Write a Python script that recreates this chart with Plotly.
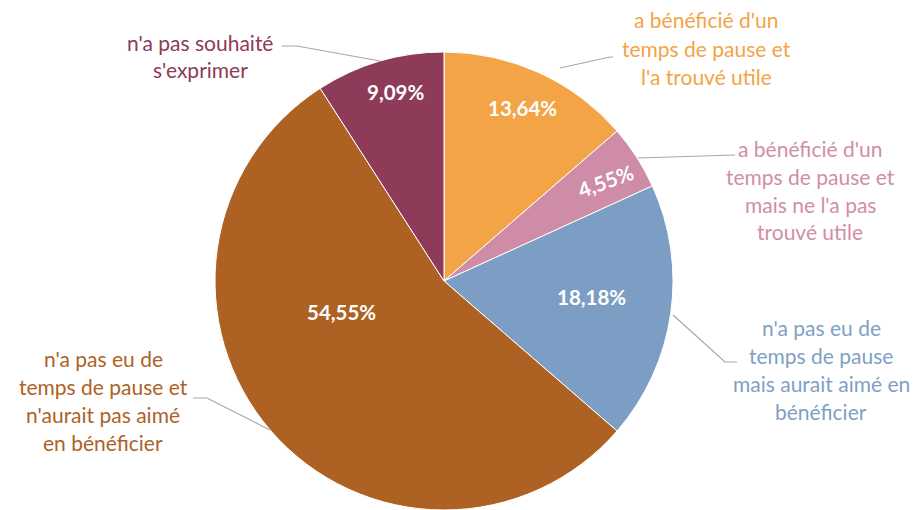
import math
import plotly.graph_objects as go

# ---- data ----
categories = [
    "a bénéficié d'un temps de pause et l'a trouvé utile",
    "a bénéficié d'un temps de pause et mais ne l'a pas trouvé utile",
    "n'a pas eu de temps de pause mais aurait aimé en bénéficier",
    "n'a pas eu de temps de pause et n'aurait pas aimé en bénéficier",
    "n'a pas souhaité s'exprimer",
]
values = [13.64, 4.55, 18.18, 54.55, 9.09]
pct_labels = ["13,64%", "4,55%", "18,18%", "54,55%", "9,09%"]
label_lines = [
    ["a bénéficié d'un", "temps de pause et", "l'a trouvé utile"],
    ["a bénéficié d'un", "temps de pause et", "mais ne l'a pas", "trouvé utile"],
    ["n'a pas eu de", "temps de pause", "mais aurait aimé en", "bénéficier"],
    ["n'a pas eu de", "temps de pause et", "n'aurait pas aimé", "en bénéficier"],
    ["n'a pas souhaité", "s'exprimer"],
]

# ---- style ----
W, H = 916, 510
OFF = 0  # page body margin removed via post_script
slice_colors = ["#F3A446", "#CE8CA6", "#7C9EC4", "#AD6122", "#8E3A59"]
text_colors = ["#F3A446", "#D08EA8", "#7F9FC6", "#AE6226", "#8E3A59"]
CX, CY, R = 444, 281, 229
FONT = "Lato, 'Open Sans', sans-serif"
# polar placement of percentage labels: radius fraction, angle tweak (deg), rotation
pct_rf = [0.83, 0.83, 0.65, 0.47, 0.85]
pct_dang = [0, 1, -2, 24, 2]
pct_rot = [0, -20, 0, 0, 0]
# outside label centre (px) and first line y
lab_cx = [706, 810, 821, 103, 200]
lab_y0 = [20, 148, 327, 358, 42]
LINE_H = 28
# leader polylines in px
leaders = [
    [(560, 68), (610, 57), (613, 57)],
    [(638, 158), (735, 155)],
    [(673, 315), (725, 362), (737, 362)],
    [(270, 430), (207, 398), (193, 398)],
    [(380, 61), (297, 46), (282, 46)],
]


def px(x):
    return (x - OFF) / W


def py(y):
    return 1 - (y - OFF) / H


fig = go.Figure()
fig.add_trace(go.Pie(
    labels=categories,
    values=values,
    sort=False,
    direction="clockwise",
    rotation=0,
    marker=dict(colors=slice_colors, line=dict(color="white", width=1)),
    textinfo="none",
    hoverinfo="label+percent",
    showlegend=False,
    domain=dict(x=[px(CX - R), px(CX + R)], y=[py(CY + R), py(CY - R)]),
))

annotations = []
total = sum(values)
cum = 0
for i, v in enumerate(values):
    mid = (cum + v / 2) / total * 360 + pct_dang[i]
    cum += v
    a = math.radians(mid)
    x = CX + pct_rf[i] * R * math.sin(a)
    y = CY - pct_rf[i] * R * math.cos(a)
    annotations.append(dict(
        x=px(x), y=py(y), xref="paper", yref="paper", showarrow=False,
        text=f"<b>{pct_labels[i]}</b>", textangle=pct_rot[i],
        font=dict(family=FONT, size=20.5, color="white"),
        xanchor="center", yanchor="middle",
    ))
    for j, line in enumerate(label_lines[i]):
        annotations.append(dict(
            x=px(lab_cx[i]), y=py(lab_y0[i] + j * LINE_H), xref="paper", yref="paper",
            showarrow=False, text=line,
            font=dict(family=FONT, size=21, color=text_colors[i]),
            xanchor="center", yanchor="middle",
        ))

shapes = []
for pts in leaders:
    path = "M " + " L ".join(f"{px(x)},{py(y)}" for x, y in pts)
    shapes.append(dict(type="path", path=path, xref="paper", yref="paper",
                       line=dict(color="#A6A6A6", width=1.2)))

fig.update_layout(
    width=W, height=H,
    margin=dict(l=0, r=0, t=0, b=0),
    paper_bgcolor="white", plot_bgcolor="white",
    annotations=annotations, shapes=shapes,
)
fig.write_html(
    "out.html",
    config={"displayModeBar": False},
    post_script="document.body.style.margin='0px';document.body.style.overflow='hidden';",
)
